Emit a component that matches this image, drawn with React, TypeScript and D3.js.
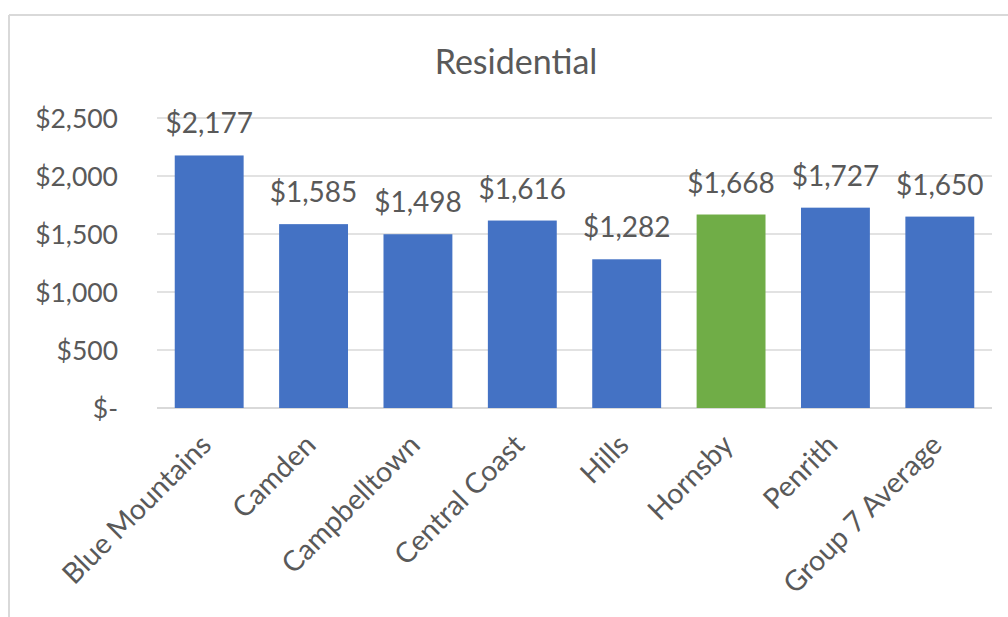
import React from "react";
import * as d3 from "d3";

const categories = ["Blue Mountains", "Camden", "Campbelltown", "Central Coast", "Hills", "Hornsby", "Penrith", "Group 7 Average"];
const values = [2177, 1585, 1498, 1616, 1282, 1668, 1727, 1650];
const highlight = ["Hornsby"];
const yTicks = [0, 500, 1000, 1500, 2000, 2500];
const title = "Residential";

const W = 1008;
const H = 617;
const FONT = "Lato, 'Open Sans', sans-serif";
const TEXT = "#595959";
const GRID = "#d9d9d9";

const fmt = (v: number) => (v === 0 ? "$-" : "$" + d3.format(",")(v));

export default function App() {
  const x = d3.scaleBand<string>().domain(categories).range([157, 992]).paddingInner(0.34).paddingOuter(0.17);
  const y = d3.scaleLinear().domain([0, 2500]).range([408, 118]);
  return (
    <svg width={W} height={H} style={{ position: "absolute", left: 0, top: 0, background: "#fff" }} fontFamily={FONT}>
      <rect x={0} y={0} width={W} height={H} fill="#fff" />
      <line x1={9} y1={15} x2={W} y2={15} stroke={GRID} strokeWidth={2} />
      <line x1={9} y1={15} x2={9} y2={H} stroke={GRID} strokeWidth={2} />
      <text x={516} y={60} textAnchor="middle" dominantBaseline="central" fontSize={34} fill={TEXT}>{title}</text>
      {yTicks.map((t) => (
        <g key={t}>
          <line x1={157} x2={992} y1={y(t)} y2={y(t)} stroke={GRID} strokeWidth={t === 0 ? 2 : 1.5} />
          <text x={118} y={y(t)} textAnchor="end" dominantBaseline="central" fontSize={26.5} fill={TEXT}>{fmt(t)}</text>
        </g>
      ))}
      {categories.map((c, i) => {
        const cx = (x(c) as number) + x.bandwidth() / 2;
        return (
          <g key={c}>
            <rect x={x(c)} y={y(values[i])} width={x.bandwidth()} height={y(0) - y(values[i])} fill={highlight.includes(c) ? "#70AD47" : "#4472C4"} />
            <text x={cx} y={y(values[i]) - 22} textAnchor="middle" fontSize={28} fill={TEXT}>{fmt(values[i])}</text>
            <text transform={`translate(${cx - 12},${431}) rotate(-45)`} textAnchor="end" dominantBaseline="hanging" fontSize={28.5} fill={TEXT}>{c}</text>
          </g>
        );
      })}
    </svg>
  );
}
